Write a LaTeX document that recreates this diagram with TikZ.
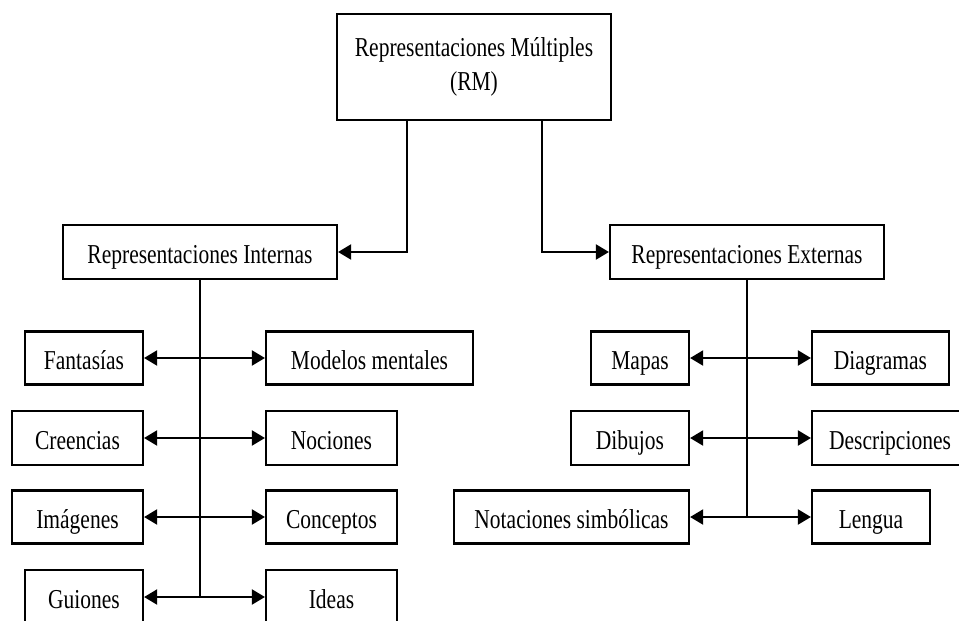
\documentclass[tikz,border=0pt]{standalone}
\usepackage{fontspec}
\setmainfont{Liberation Serif}
\usepackage{graphicx}
\usetikzlibrary{arrows.meta}
\newcommand\vt[1]{\scalebox{1}[1.27]{#1}}
\begin{document}
\begin{tikzpicture}[x=1pt,y=-1pt,
  box/.style={draw,line width=2.2pt,inner sep=0pt,font=\fontsize{21.5}{34}\selectfont,align=center},
  one/.style={text height=23pt,text depth=0pt},
  tip/.tip={Triangle[length=13pt,width=15pt]},
  arr/.style={line width=2pt,-tip},
  dbl/.style={line width=2pt,tip-tip},
  trunk/.style={line width=2pt}]
\useasboundingbox (0,0) rectangle (959,621);
\fill[white] (0,0) rectangle (959,621);
% top
\node[box,minimum width=274pt,minimum height=106pt] (rm) at (474,67) {\vt{Representaciones Múltiples}\\\vt{(RM)}};
\node[box,one,minimum width=274pt,minimum height=54pt] (int) at (200,252) {\vt{Representaciones Internas}};
\node[box,one,minimum width=274pt,minimum height=54pt] (ext) at (747,252) {\vt{Representaciones Externas}};
% left children
\node[box,one,minimum width=118pt,minimum height=53pt] (fan) at (84,358) {\vt{Fantasías}};
\node[box,one,minimum width=207pt,minimum height=53pt] (mod) at (369.5,358) {\vt{Modelos mentales}};
\node[box,one,minimum width=131pt,minimum height=54pt] (cre) at (77.5,438) {\vt{Creencias}};
\node[box,one,minimum width=131pt,minimum height=54pt] (noc) at (331.5,438) {\vt{Nociones}};
\node[box,one,minimum width=131pt,minimum height=53pt] (ima) at (77.5,517) {\vt{Imágenes}};
\node[box,one,minimum width=131pt,minimum height=53pt] (con) at (331.5,517) {\vt{Conceptos}};
\node[box,one,minimum width=118pt,minimum height=54pt] (gui) at (84,597) {\vt{Guiones}};
\node[box,one,minimum width=131pt,minimum height=54pt] (ide) at (331.5,597) {\vt{Ideas}};
% right children
\node[box,one,minimum width=98pt,minimum height=53pt] (map) at (640,358) {\vt{Mapas}};
\node[box,one,minimum width=137pt,minimum height=53pt] (dia) at (880.5,358) {\vt{Diagramas}};
\node[box,one,minimum width=118pt,minimum height=54pt] (dib) at (630,438) {\vt{Dibujos}};
\node[box,one,minimum width=156pt,minimum height=54pt] (des) at (890,438) {\vt{Descripciones}};
\node[box,one,minimum width=235pt,minimum height=53pt] (nots) at (571.5,517) {\vt{Notaciones simbólicas}};
\node[box,one,minimum width=118pt,minimum height=53pt] (len) at (871,517) {\vt{Lengua}};
% connectors from top
\draw[arr] ([xshift=-67pt]rm.south) |- (int.east);
\draw[arr] ([xshift=68pt]rm.south) |- (ext.west);
% trunks
\draw[trunk] (int.south) -- (int.south |- gui.east);
\draw[trunk] (ext.south) -- (ext.south |- nots.east);
% horizontal double arrows
\draw[dbl] (fan.east) -- (mod.west);
\draw[dbl] (cre.east) -- (noc.west);
\draw[dbl] (ima.east) -- (con.west);
\draw[dbl] (gui.east) -- (ide.west);
\draw[dbl] (map.east) -- (dia.west);
\draw[dbl] (dib.east) -- (des.west);
\draw[dbl] (nots.east) -- (len.west);
\end{tikzpicture}
\end{document}
